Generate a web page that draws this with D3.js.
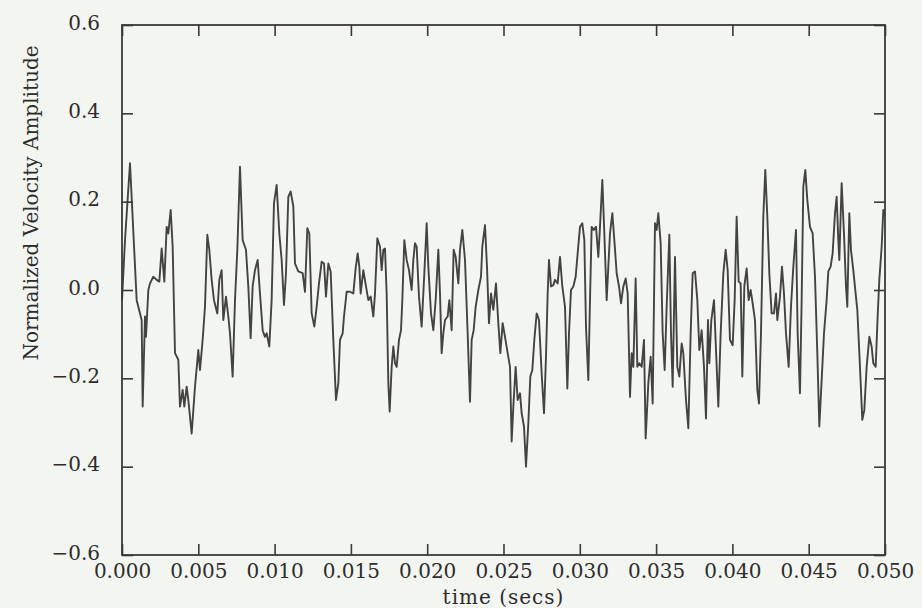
<!DOCTYPE html>
<html>
<head>
<meta charset="utf-8">
<script src="https://cdn.jsdelivr.net/npm/d3@7"></script>
<style>
	html, body { margin: 0; padding: 0; background: #f3f5f1; }
	svg { display: block; }
</style>
</head>
<body>
<svg id="chart" width="922" height="608"></svg>
<script>
// [time in ms, normalized amplitude]
var traceEarly = [
	[0.000,-0.023],[0.197,0.113],[0.524,0.287],[0.961,-0.023],[1.289,-0.068],[1.354,-0.264],[1.507,-0.060],[1.573,-0.106],
	[1.725,0.000],[1.835,0.015],[2.053,0.030],[2.271,0.023],[2.446,0.019],[2.599,0.094],[2.774,0.019],[2.927,0.143],
	[3.036,0.128],[3.189,0.181],[3.320,0.098],[3.473,-0.143],[3.691,-0.158],[3.800,-0.264],[3.975,-0.226],[4.084,-0.264],
	[4.237,-0.219],[4.346,-0.249],[4.565,-0.325],[4.783,-0.219],[5.001,-0.136],[5.111,-0.181],[5.285,-0.113],[5.438,-0.038],
	[5.591,0.125],[5.722,0.091],[5.875,0.023],[6.028,-0.023],[6.246,-0.053],[6.377,0.023],[6.530,0.045],[6.639,-0.068],
	[6.814,-0.015],[6.967,-0.060],[7.076,-0.098],[7.251,-0.196],[7.404,-0.023],[7.557,0.091],[7.731,0.279],[7.906,0.113],
	[8.124,0.091],[8.277,0.008],[8.430,-0.109],[8.561,0.008],[8.714,0.045],[8.889,0.068],[9.042,-0.008],[9.217,-0.091],
	[9.370,-0.106],[9.479,-0.098],[9.653,-0.128],[9.806,-0.023],[9.959,0.196],[10.134,0.238],[10.309,0.128],[10.462,0.068],
	[10.615,-0.034],[10.746,0.038],[10.899,0.211],[11.052,0.223],[11.227,0.189],[11.336,0.060],[11.554,0.042],[11.838,0.038],
	[11.991,-0.004],[12.144,0.140],[12.275,0.128],[12.428,-0.053],[12.603,-0.083],[12.756,-0.038],[12.909,0.015],[13.084,0.064],
	[13.237,0.060],[13.368,-0.015],[13.521,0.060],[13.674,0.042],[13.848,-0.113],[14.023,-0.249],[14.176,-0.211],[14.285,-0.113],
	[14.460,-0.098],[14.547,-0.060],[14.722,-0.004],[14.940,-0.004],[15.159,-0.008],[15.312,0.049],[15.443,0.083],[15.552,0.053],
	[15.639,-0.008],[15.814,0.045],[15.989,0.008],[16.142,-0.023],[16.295,-0.015],[16.470,-0.060],[16.579,-0.008],[16.732,0.117]
];
var traceMiddle = [
	[16.907,0.098],[17.016,0.045],[17.125,0.091],[17.234,0.094],[17.343,-0.008],[17.453,-0.211],[17.540,-0.275],[17.671,-0.174],
	[17.780,-0.128],[17.890,-0.166],[17.999,-0.174],[18.152,-0.113],[18.283,-0.091],[18.370,-0.023],[18.501,0.113],[18.654,0.068],
	[18.807,0.045],[18.982,0.000],[19.091,0.068],[19.200,0.106],[19.309,0.098],[19.462,-0.015],[19.637,-0.083],[19.812,0.038],
	[19.965,0.151],[20.074,0.053],[20.249,-0.053],[20.402,-0.091],[20.554,-0.023],[20.729,0.091],[20.838,-0.008],[20.947,-0.143],
	[21.057,-0.098],[21.166,-0.068],[21.341,-0.060],[21.450,-0.023],[21.603,-0.091],[21.734,0.091],[21.865,0.075],[22.040,0.015],
	[22.149,0.091],[22.302,0.136],[22.477,0.068],[22.651,-0.098],[22.804,-0.253],[22.914,-0.113],[23.045,-0.091],[23.176,-0.038],
	[23.351,0.000],[23.525,0.030],[23.612,0.098],[23.787,0.147],[23.918,0.053],[24.049,-0.075],[24.180,-0.008],[24.333,-0.045],
	[24.508,0.015],[24.661,-0.075],[24.792,-0.143],[24.945,-0.075],[25.098,-0.106],[25.273,-0.143],[25.426,-0.174],[25.535,-0.343],
	[25.644,-0.264],[25.797,-0.174],[25.928,-0.249],[26.081,-0.234],[26.190,-0.279],[26.343,-0.309],[26.474,-0.400],[26.627,-0.302],
	[26.758,-0.196],[26.889,-0.181],[27.020,-0.113],[27.173,-0.053],[27.326,-0.068],[27.501,-0.189],[27.654,-0.279],[27.785,-0.151],
	[27.894,-0.008],[27.981,0.068],[28.112,0.008],[28.265,0.011],[28.374,0.023],[28.549,0.015],[28.702,0.075],[28.855,0.008],
	[29.030,-0.038],[29.183,-0.223],[29.292,-0.098],[29.423,0.000],[29.576,0.008],[29.729,0.030],[29.860,0.083],[30.013,0.143],
	[30.166,0.151],[30.297,0.113],[30.406,-0.083],[30.559,-0.204],[30.668,-0.023],[30.778,0.143],[30.909,0.136],[31.062,0.143],
	[31.214,0.075],[31.324,0.143],[31.477,0.249],[31.608,0.128],[31.761,-0.023],[31.870,0.053],[31.979,0.128],[32.132,0.174],
	[32.263,0.113],[32.416,0.038],[32.569,0.008],[32.700,-0.030],[32.853,0.008],[33.006,0.026],[33.137,-0.008],[33.290,-0.242]
];
var traceLate = [
	[33.399,-0.143],[33.508,-0.174],[33.661,0.026],[33.770,-0.174],[33.902,-0.166],[34.054,-0.174],[34.207,-0.113],[34.316,-0.336],
	[34.491,-0.211],[34.644,-0.151],[34.775,-0.257],[34.928,0.151],[35.037,0.136],[35.146,0.174],[35.299,0.106],[35.430,-0.098],
	[35.561,-0.181],[35.692,-0.038],[35.867,0.125],[35.976,-0.098],[36.086,-0.219],[36.238,0.075],[36.391,-0.174],[36.522,-0.196],
	[36.675,-0.121],[36.784,-0.143],[36.959,-0.249],[37.112,-0.313],[37.265,-0.098],[37.396,0.038],[37.549,0.042],[37.702,-0.023],
	[37.833,-0.136],[37.986,-0.091],[38.139,-0.174],[38.270,-0.291],[38.401,-0.068],[38.488,-0.166],[38.619,-0.068],[38.794,-0.023],
	[38.925,-0.136],[39.078,-0.264],[39.231,-0.098],[39.406,0.038],[39.559,0.091],[39.690,0.045],[39.842,-0.113],[40.017,-0.125],
	[40.148,-0.023],[40.279,0.166],[40.410,0.019],[40.541,0.015],[40.650,-0.196],[40.781,0.008],[40.934,0.049],[41.065,-0.023],
	[41.196,0.000],[41.327,-0.030],[41.480,-0.068],[41.633,-0.226],[41.742,-0.257],[41.873,-0.098],[42.026,0.166],[42.157,0.272],
	[42.288,0.166],[42.419,0.038],[42.572,-0.053],[42.725,-0.053],[42.856,-0.008],[42.943,-0.068],[43.118,-0.015],[43.249,0.053],
	[43.380,-0.008],[43.511,-0.098],[43.686,-0.174],[43.839,-0.038],[43.992,0.053],[44.167,0.136],[44.276,-0.098],[44.428,-0.234],
	[44.538,-0.023],[44.647,0.234],[44.778,0.272],[44.909,0.204],[45.084,0.143],[45.259,0.128],[45.412,0.030],[45.565,-0.143],
	[45.696,-0.309],[45.849,-0.204],[46.002,-0.098],[46.176,-0.023],[46.285,0.042],[46.438,0.053],[46.569,0.083],[46.722,0.174],
	[46.831,0.211],[46.941,0.113],[47.006,0.068],[47.159,0.242],[47.312,0.128],[47.443,0.008],[47.530,-0.038],[47.661,0.174],
	[47.770,0.091],[47.923,0.045],[48.076,-0.008],[48.186,-0.045],[48.360,-0.174],[48.513,-0.294],[48.644,-0.272],[48.797,-0.174],
	[48.972,-0.106],[49.125,-0.128],[49.234,-0.166],[49.387,-0.174],[49.518,-0.060],[49.628,0.023],[49.781,0.098],[49.890,0.181],
	[50.000,0.170]
];

var xTicks = [0, 0.005, 0.010, 0.015, 0.020, 0.025, 0.030, 0.035, 0.040, 0.045, 0.050];
var yTicks = [-0.6, -0.4, -0.2, 0.0, 0.2, 0.4, 0.6];

var xTitle = "time (secs)";
var yTitle = "Normalized Velocity Amplitude";

var svg = d3.select("#chart");
var margin = { left: 122, right: 37, top: 25, bottom: 53 };
var width  = 922 - margin.left - margin.right;
var height = 608 - margin.top - margin.bottom;
var ink = "#3a3a3a";
var font = "'DejaVu Serif', 'Liberation Serif', serif";

var x = d3.scaleLinear().domain([0, 0.05]).range([0, width]);
var y = d3.scaleLinear().domain([-0.6, 0.6]).range([height, 0]);

var g = svg.append("g").attr("transform", "translate(" + margin.left + "," + margin.top + ")");

var trace = traceEarly.concat(traceMiddle, traceLate);
var line = d3.line()
	.x(function(d){ return x(d[0] / 1000); })
	.y(function(d){ return y(d[1]); });

g.append("path")
	.datum(trace)
	.attr("fill", "none")
	.attr("stroke", "#434343")
	.attr("stroke-width", 1.9)
	.attr("stroke-linejoin", "round")
	.attr("d", line);

//axes: inward ticks on all four sides
function styleAxis(sel){
	sel.select(".domain").remove();
	sel.selectAll(".tick line").attr("stroke", ink).attr("stroke-width", 1.6);
	sel.selectAll(".tick text")
		.attr("fill", "#2c2c2c")
		.style("font-family", font)
		.style("font-size", "20px");
}

var bottom = g.append("g")
	.attr("transform", "translate(0," + height + ")")
	.call(d3.axisBottom(x).tickValues(xTicks).tickFormat(d3.format(".3f")).tickSizeInner(-11).tickSizeOuter(0).tickPadding(9));
styleAxis(bottom);

g.append("g")
	.call(d3.axisTop(x).tickValues(xTicks).tickFormat("").tickSizeInner(-11).tickSizeOuter(0))
	.call(styleAxis);

var left = g.append("g")
	.call(d3.axisLeft(y).tickValues(yTicks).tickFormat(d3.format(".1f")).tickSizeInner(-11).tickSizeOuter(0).tickPadding(22));
styleAxis(left);
left.selectAll(".tick text").attr("dy", "0.2em");

g.append("g")
	.attr("transform", "translate(" + width + ",0)")
	.call(d3.axisRight(y).tickValues(yTicks).tickFormat("").tickSizeInner(-11).tickSizeOuter(0))
	.call(styleAxis);

g.append("rect")
	.attr("width", width)
	.attr("height", height)
	.attr("fill", "none")
	.attr("stroke", ink)
	.attr("stroke-width", 1.8);

//titles
svg.append("text")
	.attr("x", margin.left + x(0.025))
	.attr("y", 604)
	.attr("text-anchor", "middle")
	.attr("fill", "#2c2c2c")
	.style("font-family", font)
	.style("font-size", "20px")
	.style("letter-spacing", "1px")
	.text(xTitle);

svg.append("text")
	.attr("transform", "translate(38,203) rotate(-90)")
	.attr("text-anchor", "middle")
	.attr("fill", "#2c2c2c")
	.style("font-family", font)
	.style("font-size", "20px")
	.text(yTitle);
</script>
</body>
</html>
